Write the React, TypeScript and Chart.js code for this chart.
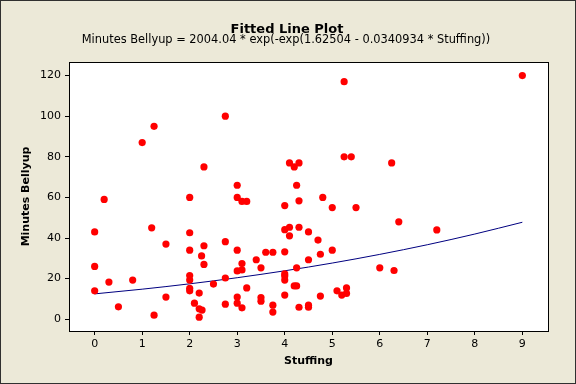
import { useEffect, useRef } from "react";
import { Chart, registerables } from "chart.js";

Chart.register(...registerables);

const stuffing = [
  0.2, 1, 1.25, 2.75, 2.3, 2, 3, 3, 3.1, 3.2,
  5.25, 5.25, 5.4, 4.1, 4.2, 4.3, 4.25, 4.3, 4.8, 0,
  1.2, 1.5, 2, 2.3, 2.75, 2, 2.25, 2.3, 3, 3.4,
  3.1, 3, 3.1, 0, 0.3, 0.8, 0, 2, 2, 2,
  2, 2.2, 2.5, 2.75, 1.5, 0.5, 1.25, 2.1, 2.2, 2.26,
  2.2, 2.75, 3, 3, 3.1, 3.2, 3.5, 3.5, 3.5, 4,
  5, 5.5, 4, 4.1, 4.1, 4.3, 4.5, 4.7, 4.75, 5,
  3.6, 3.75, 4, 4.5, 4.25, 4, 4, 4, 4.2, 4.25,
  4, 3.75, 3.75, 4.3, 4.5, 4.5, 4.75, 5.1, 5.3, 5.2,
  5.3, 6, 9, 6.25, 6.4, 7.2, 6.3,
];

const minutes = [
  59, 87, 95, 100, 75, 60, 66, 60, 58, 58,
  117, 80, 80, 77, 75, 77, 66, 58.3, 60, 43,
  45, 37, 42.6, 36.2, 38.2, 34, 31.2, 27, 34, 29.3,
  27.4, 23.8, 24.3, 26, 18.3, 19.3, 14, 21.5, 19.3, 15.2,
  14, 12.9, 17.3, 20.3, 10.9, 6.1, 2, 7.9, 5.1, 4.5,
  1, 7.4, 10.9, 7.9, 5.6, 15.4, 10.7, 8.9, 25.3, 56,
  55, 55, 44.1, 45.3, 41.1, 45.3, 43, 39, 32, 34,
  33, 33, 33.2, 29.3, 25.3, 22.3, 21.3, 19.3, 16.4, 16.4,
  11.9, 6.9, 3.5, 5.9, 6.9, 5.9, 11.4, 14, 15.4, 11.9,
  12.7, 25.3, 120, 77, 48, 44, 24,
];

const fitStuffing = [0, 1, 2, 3, 4, 5, 6, 7, 8, 9];
const fitMinutes = [12.48, 14.8, 17.44, 20.45, 23.85, 27.67, 31.94, 36.69, 41.96, 47.76];

const xTicks = [0, 1, 2, 3, 4, 5, 6, 7, 8, 9];
const yTicks = [0, 20, 40, 60, 80, 100, 120];

const titleText = "Fitted Line Plot";
const subtitleText = "Minutes Bellyup = 2004.04 * exp(-exp(1.62504 - 0.0340934 * Stuffing))";
const xTitle = "Stuffing";
const yTitle = "Minutes Bellyup";

const FONT = "'DejaVu Sans', Verdana, sans-serif";

export default function App() {
  const ref = useRef<HTMLCanvasElement | null>(null);

  useEffect(() => {
    document.body.style.margin = "0";
    const canvas = ref.current;
    if (!canvas) return;

    const decor = {
      id: "decor",
      beforeDraw(chart: any) {
        const { ctx, chartArea } = chart;
        ctx.save();
        ctx.fillStyle = "#ECE9D8";
        ctx.fillRect(0, 0, chart.width, chart.height);
        ctx.fillStyle = "#FFFFFF";
        ctx.fillRect(chartArea.left, chartArea.top, chartArea.right - chartArea.left, chartArea.bottom - chartArea.top);
        ctx.restore();
      },
      afterDraw(chart: any) {
        const { ctx, chartArea } = chart;
        ctx.save();
        ctx.strokeStyle = "#000000";
        ctx.lineWidth = 1;
        ctx.strokeRect(
          Math.round(chartArea.left) + 0.5,
          Math.round(chartArea.top) + 0.5,
          Math.round(chartArea.right - chartArea.left),
          Math.round(chartArea.bottom - chartArea.top)
        );
        ctx.strokeStyle = "#303030";
        ctx.strokeRect(0.5, 0.5, chart.width - 1, chart.height - 1);

        ctx.fillStyle = "#000000";
        ctx.textAlign = "center";
        ctx.textBaseline = "alphabetic";
        ctx.font = `bold 13px ${FONT}`;
        ctx.fillText(titleText, 287, 33);
        ctx.font = `11.4px ${FONT}`;
        ctx.fillText(subtitleText, 286, 43);

        ctx.font = `bold 11px ${FONT}`;
        const cx = (chartArea.left + chartArea.right) / 2;
        ctx.fillText(xTitle, cx, 364);
        const cy = (chartArea.top + chartArea.bottom) / 2;
        ctx.translate(29, cy);
        ctx.rotate(-Math.PI / 2);
        ctx.fillText(yTitle, 0, 0);
        ctx.restore();
      },
    };

    const chart = new Chart(canvas, {
      type: "scatter",
      data: {
        datasets: [
          {
            type: "scatter",
            label: "Data",
            data: stuffing.map((s, i) => ({ x: s, y: minutes[i] })),
            backgroundColor: "#FF0000",
            borderColor: "#FF0000",
            borderWidth: 0,
            pointRadius: 3.6,
            pointHoverRadius: 3.6,
            order: 1,
          },
          {
            type: "line",
            label: "Fit",
            data: fitStuffing.map((s, i) => ({ x: s, y: fitMinutes[i] })),
            borderColor: "#000080",
            borderWidth: 1,
            pointRadius: 0,
            fill: false,
            cubicInterpolationMode: "monotone",
            order: 2,
          } as any,
        ],
      },
      options: {
        responsive: false,
        animation: false,
        devicePixelRatio: 1,
        layout: { padding: { left: 0, right: 28, top: 62, bottom: 0 } },
        plugins: {
          legend: { display: false },
          title: { display: false },
          tooltip: { enabled: false },
        },
        scales: {
          x: {
            type: "linear",
            min: -0.54,
            max: 9.54,
            afterBuildTicks(scale: any) {
              scale.ticks = xTicks.map((v) => ({ value: v }));
            },
            afterFit(scale: any) {
              scale.height = 53;
            },
            grid: {
              display: true,
              drawOnChartArea: false,
              drawTicks: true,
              tickLength: 4,
              color: "#000000",
            },
            border: { display: true, color: "#000000" },
            ticks: {
              color: "#000000",
              font: { family: FONT, size: 11 },
              padding: 3,
              maxRotation: 0,
              autoSkip: false,
            },
          },
          y: {
            type: "linear",
            min: -5.8,
            max: 126.7,
            afterBuildTicks(scale: any) {
              scale.ticks = yTicks.map((v) => ({ value: v }));
            },
            afterFit(scale: any) {
              scale.width = 69;
            },
            grid: {
              display: true,
              drawOnChartArea: false,
              drawTicks: true,
              tickLength: 4,
              color: "#000000",
            },
            border: { display: true, color: "#000000" },
            ticks: {
              color: "#000000",
              font: { family: FONT, size: 11 },
              padding: 4,
              autoSkip: false,
            },
          },
        },
      },
      plugins: [decor],
    });

    return () => chart.destroy();
  }, []);

  return (
    <div style={{ position: "absolute", left: 0, top: 0, width: 576, height: 384 }}>
      <canvas ref={ref} width={576} height={384} style={{ display: "block", width: 576, height: 384 }} />
    </div>
  );
}
